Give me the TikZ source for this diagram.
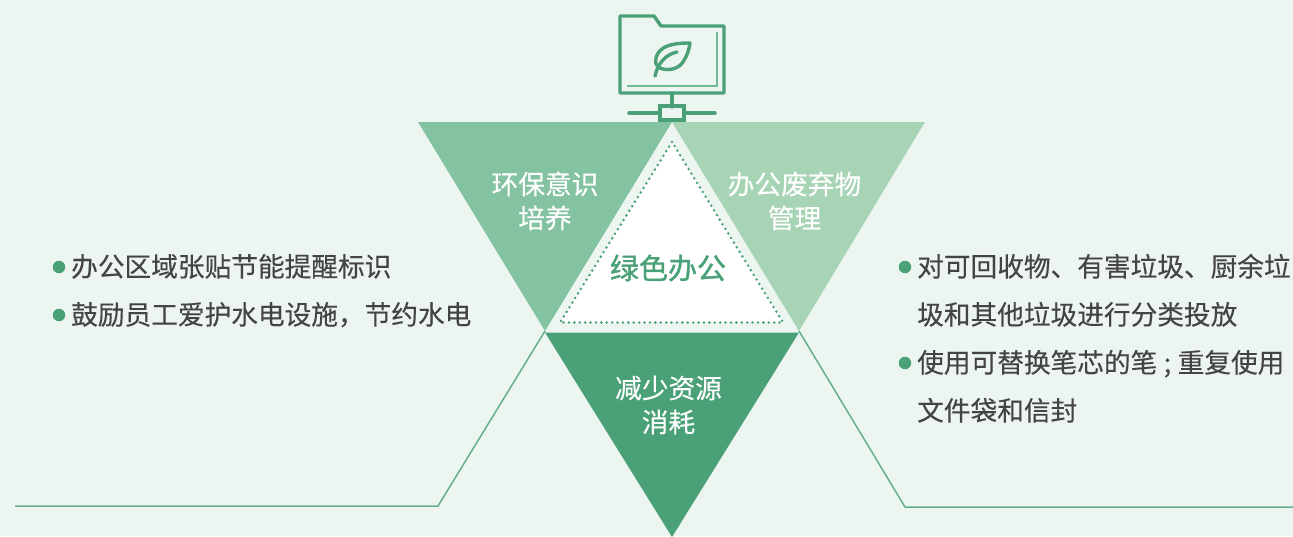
\documentclass[tikz,border=0pt]{standalone}
\usepackage{fontspec}
\setmainfont[FakeBold=0.25]{Noto Sans CJK SC}
\newfontfamily\strongcjk[FakeBold=1.2]{Noto Sans CJK SC}
\definecolor{bgc}{HTML}{EDF5F0}
\definecolor{gA}{HTML}{4AA177}
\definecolor{gB}{HTML}{83C3A1}
\definecolor{gC}{HTML}{A8D4B6}
\definecolor{txt}{HTML}{444444}
\tikzset{
  x=1pt,y=-1pt,
  bodytext/.style={anchor=base west,inner sep=0pt,text=txt,font=\fontsize{26.68}{26.68}\selectfont},
  tritext/.style={align=center,inner sep=0pt,text=white,font=\fontsize{26.68}{34}\selectfont},
  bulletdot/.style={circle,fill=gA,minimum size=12.5pt,inner sep=0pt},
  iconline/.style={draw=gA,line width=3.4pt,line join=round,line cap=round},
  leader/.style={draw=gA!85,line width=1.5pt,line join=round},
}
\begin{document}
\begin{tikzpicture}
\useasboundingbox[fill=bgc] (0,0) rectangle (1293,536);
% coordinates
\coordinate (tl) at (418,122);
\coordinate (tm) at (672,122);
\coordinate (tr) at (925,122);
\coordinate (ml) at (545,331);
\coordinate (mr) at (799,331);
\coordinate (bm) at (672,537);
% triangles
\fill[gB] (tl) -- (tm) -- (ml) -- cycle;
\fill[gC] (tm) -- (tr) -- (mr) -- cycle;
\fill[gA] (545,332.5) -- (799,332.5) -- (bm) -- cycle;
% centre
\coordinate (ca) at (672,142);
\coordinate (cl) at (560,322.5);
\coordinate (cr) at (783,322.5);
\fill[white] (ca) -- (cl) -- (cr) -- cycle;
\draw[gA,line width=2.8pt,line cap=round,dash pattern=on 0pt off 5.4pt] (ca) -- (cl) -- (cr) -- cycle;
% leaders
\coordinate (la) at (15,506);
\coordinate (lb) at (438,506);
\coordinate (ra) at (905,507);
\coordinate (rb) at (1293,507);
\draw[leader] (la) -- (lb) -- (ml);
\draw[leader] (mr) -- (ra) -- (rb);
% icon
\draw[iconline] (620,16) -- (654,16) -- (661,26) -- (724,26) -- (724,93) -- (620,93) -- cycle;
\draw[draw=gB!70!gA,line width=2.2pt] (717,32) -- (717,86) -- (627,86);
\draw[iconline] (672,93) -- (672,107);
\node[draw=gA,line width=3.4pt,minimum width=24pt,minimum height=14pt,inner sep=0pt] (hub) at (672,113) {};
\coordinate (hl) at (629,113);
\coordinate (hr) at (715,113);
\draw[iconline] (hl) -- (hub.west);
\draw[iconline] (hub.east) -- (hr);
\draw[iconline] (690,43) .. controls (680,43) and (668,44) .. (662,49) .. controls (655,54) and (654,64) .. (658,67) .. controls (664,71) and (677,71) .. (683,62) .. controls (687,56) and (689,50) .. (690,43) -- cycle;
\draw[iconline] (677,52) .. controls (667,54) and (658,62) .. (655,76);
% triangle labels
\node[tritext] (t1) at (545,201) {环保意识\\培养};
\node[tritext] (t2) at (794.5,201) {办公废弃物\\管理};
\node[tritext] (t3) at (668.5,405) {减少资源\\消耗};
\node[inner sep=0pt,text=gA,font=\strongcjk\fontsize{29}{29}\selectfont] (t0) at (668,268) {绿色办公};
% left list
\node[bulletdot] (b1) at (59,267) {};
\node[bulletdot] (b2) at (59,315) {};
\node[bodytext] (l1) at (71,276.5) {办公区域张贴节能提醒标识};
\node[bodytext] (l2) at (71,324.5) {鼓励员工爱护水电设施，节约水电};
% right list
\node[bulletdot] (b3) at (905,267) {};
\node[bulletdot] (b4) at (905,363) {};
\node[bodytext] (r1) at (917,276.5) {对可回收物、有害垃圾、厨余垃};
\node[bodytext] (r2) at (917,324.5) {圾和其他垃圾进行分类投放};
\node[bodytext] (r3) at (917,372.5) {使用可替换笔芯的笔\hspace{0.5pt} ;\hspace{0.5pt} 重复使用};
\node[bodytext] (r4) at (917,420.5) {文件袋和信封};
\end{tikzpicture}
\end{document}
